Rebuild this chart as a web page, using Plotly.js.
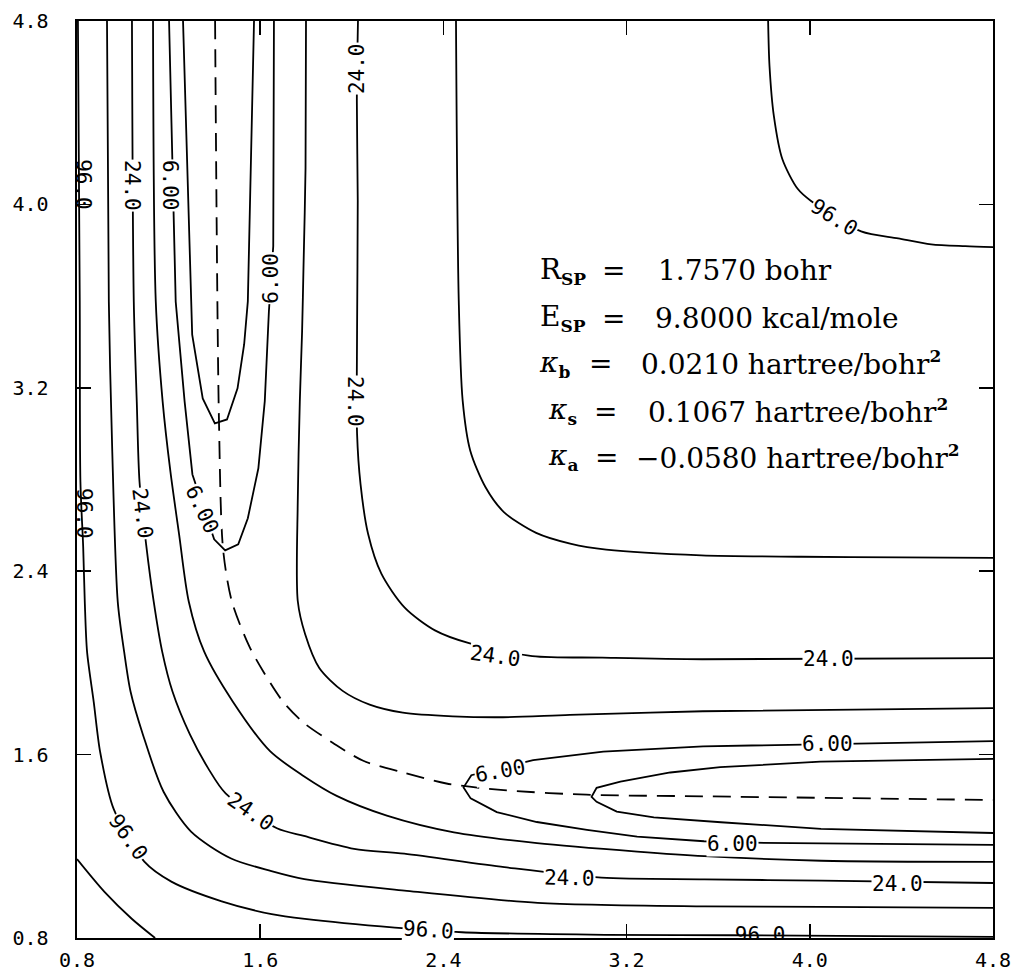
<!DOCTYPE html>
<html><head><meta charset="utf-8">
<script src="https://cdn.plot.ly/plotly-3.0.1.min.js"></script>
<style>html,body{margin:0;padding:0;background:#fff;}</style>
</head><body>
<div id="chart" style="width:1011px;height:976px;"></div>
<script>
// ---- axis ticks ----
const tickVals = [0.8, 1.6, 2.4, 3.2, 4.0, 4.8];
const tickText = ["0.8", "1.6", "2.4", "3.2", "4.0", "4.8"];

// ---- contour lines (kcal/mole) ----
const c192X = [0.8, 0.920, 1.039, 1.141];
const c192Y = [1.144, 1.001, 0.884, 0.8];

const c96inX = [0.804, 0.812, 0.815, 0.827, 0.834, 0.844, 0.873, 0.901, 0.960, 1.094, 1.212, 1.432, 1.650, 1.795, 2.188, 2.481, 3.106, 3.660, 4.8];
const c96inY = [4.8, 3.574, 2.789, 2.506, 2.266, 2.048, 1.830, 1.612, 1.363, 1.133, 1.046, 0.960, 0.904, 0.883, 0.845, 0.825, 0.814, 0.812, 0.805];

const c48inX = [0.931, 0.939, 0.954, 0.978, 1.006, 1.034, 1.088, 1.178, 1.298, 1.473, 1.649, 1.793, 2.230, 2.812, 3.541, 4.052, 4.8];
const c48inY = [4.8, 3.575, 2.921, 2.266, 2.048, 1.874, 1.687, 1.438, 1.264, 1.147, 1.092, 1.057, 1.007, 0.953, 0.938, 0.936, 0.931];

const c24inX = [1.040, 1.048, 1.061, 1.073, 1.102, 1.135, 1.172, 1.217, 1.293, 1.373, 1.449, 1.673, 1.791, 2.010, 2.229, 2.666, 3.090, 3.540, 4.051, 4.8];
const c24inY = [4.8, 3.575, 3.139, 2.790, 2.516, 2.267, 2.049, 1.875, 1.688, 1.540, 1.431, 1.279, 1.245, 1.189, 1.168, 1.109, 1.063, 1.056, 1.050, 1.040];

const c12inX = [1.132, 1.144, 1.174, 1.208, 1.246, 1.288, 1.355, 1.480, 1.643, 1.789, 1.934, 2.153, 2.446, 2.809, 3.246, 3.539, 4.050, 4.8];
const c12inY = [4.8, 3.576, 3.140, 2.834, 2.560, 2.268, 2.050, 1.832, 1.615, 1.507, 1.420, 1.334, 1.261, 1.214, 1.177, 1.157, 1.137, 1.132];

const c6exitX = [1.202, 1.231, 1.270, 1.304, 1.399, 1.447, 1.504, 1.546, 1.592, 1.620, 1.638, 1.657, 1.660];
const c6exitY = [4.8, 3.576, 3.140, 2.822, 2.539, 2.491, 2.517, 2.631, 2.849, 3.142, 3.534, 3.818, 4.8];

const c6entX = [4.8, 3.534, 3.098, 2.792, 2.522, 2.488, 2.519, 2.633, 2.808, 3.027, 3.246, 3.538, 3.800, 4.8];
const c6entY = [1.659, 1.636, 1.613, 1.576, 1.510, 1.457, 1.409, 1.349, 1.306, 1.272, 1.242, 1.222, 1.215, 1.206];

const c3exitX = [1.263, 1.297, 1.303, 1.349, 1.402, 1.455, 1.501, 1.530, 1.546, 1.573];
const c3exitY = [4.8, 3.576, 3.432, 3.154, 3.045, 3.062, 3.198, 3.390, 3.577, 4.8];

const c3entX = [4.8, 4.046, 3.609, 3.391, 3.173, 3.069, 3.047, 3.069, 3.157, 3.319, 3.612, 4.049, 4.8];
const c3entY = [1.581, 1.569, 1.545, 1.522, 1.482, 1.455, 1.416, 1.394, 1.351, 1.326, 1.305, 1.276, 1.258];

const c12outX = [1.800, 1.798, 1.789, 1.783, 1.773, 1.764, 1.764, 1.796, 1.858, 1.960, 2.078, 2.223, 2.441, 2.660, 2.952, 3.533, 4.8];
const c12outY = [4.8, 4.159, 3.723, 3.448, 3.142, 2.706, 2.270, 2.126, 1.978, 1.878, 1.818, 1.783, 1.767, 1.763, 1.773, 1.789, 1.803];

const c24outX = [2.027, 2.022, 2.026, 2.023, 2.023, 2.038, 2.071, 2.129, 2.231, 2.363, 2.512, 2.788, 3.094, 3.530, 4.8];
const c24outY = [4.8, 4.452, 4.016, 3.449, 2.999, 2.781, 2.563, 2.389, 2.241, 2.142, 2.086, 2.030, 2.023, 2.016, 2.021];

const c48outX = [2.455, 2.467, 2.484, 2.517, 2.584, 2.664, 2.805, 2.958, 3.111, 3.526, 3.963, 4.400, 4.8];
const c48outY = [4.8, 3.582, 3.145, 2.927, 2.766, 2.658, 2.567, 2.519, 2.494, 2.469, 2.463, 2.460, 2.458];

const c96outX = [3.818, 3.824, 3.843, 3.880, 3.947, 4.004, 4.224, 4.386, 4.530, 4.679, 4.8];
const c96outY = [4.8, 4.604, 4.386, 4.198, 4.068, 4.016, 3.882, 3.852, 3.826, 3.818, 3.814];

// minimum energy path (dashed)
const pathX = [1.403, 1.420, 1.438, 1.476, 1.552, 1.618, 1.698, 1.786, 1.918, 2.050, 2.225, 2.413, 2.663, 3.025, 3.536, 4.8];
const pathY = [4.8, 3.053, 2.495, 2.269, 2.073, 1.955, 1.833, 1.742, 1.651, 1.573, 1.522, 1.474, 1.445, 1.425, 1.418, 1.402];

// ---- contour labels ----
const labelText  = ["96.0", "24.0", "6.00", "6.00", "24.0", "24.0", "6.00", "96.0", "24.0", "96.0", "24.0", "96.0", "24.0", "24.0", "6.00", "6.00", "6.00", "24.0", "24.0", "96.0"];
const labelX     = [0.825, 1.039, 1.209, 1.649, 2.020, 2.013, 1.349, 0.830, 1.087, 1.023, 1.559, 2.337, 2.626, 4.081, 4.076, 2.649, 3.661, 2.950, 4.383, 4.110];
const labelY     = [4.085, 4.081, 4.082, 3.678, 4.592, 3.139, 2.669, 2.650, 2.651, 1.241, 1.348, 0.833, 2.029, 2.018, 1.647, 1.528, 1.209, 1.062, 1.034, 3.942];
const labelAngle = [90, 90, 90, -90, -90, 90, 65, 90, 83, 55, 35, 4, 8, 0, 0, -10, 0, 1, 0, 32];
const labelOnEdge = [true, false, false, false, false, false, false, true, false, false, false, false, false, false, false, false, false, false, false, false];
// label cut by the lower frame
const cutLabelText = ["96.0"];
const cutLabelX = [3.783];
const cutLabelY = [0.804];

// ---- saddle point parameters ----
const paramSymbols = ["R", "E", "<i>κ</i>", "<i>κ</i>", "<i>κ</i>"];
const paramSubs    = ["SP", "SP", "b", "s", "a"];
const paramValues  = ["1.7570 bohr", "9.8000 kcal/mole", "0.0210 hartree/bohr", "0.1067 hartree/bohr", "−0.0580 hartree/bohr"];
const paramPowers  = ["", "", "2", "2", "2"];

// ---------------------------------------------------------------
const solid = {color: "#000", width: 1.8};
function curve(x, y, smooth) {
  return {type: "scatter", mode: "lines", x: x, y: y, hoverinfo: "skip", showlegend: false,
          line: Object.assign({}, solid, smooth ? {shape: "spline", smoothing: 0.8} : {shape: "linear"})};
}
const traces = [
  curve(c192X, c192Y, true),
  curve(c96inX, c96inY, true),
  curve(c48inX, c48inY, true),
  curve(c24inX, c24inY, true),
  curve(c12inX, c12inY, true),
  curve(c6exitX, c6exitY, false),
  curve(c6entX, c6entY, false),
  curve(c3exitX, c3exitY, false),
  curve(c3entX, c3entY, false),
  curve(c12outX, c12outY, true),
  curve(c24outX, c24outY, true),
  curve(c48outX, c48outY, true),
  curve(c96outX, c96outY, true),
  {type: "scatter", mode: "lines", x: pathX, y: pathY, hoverinfo: "skip", showlegend: false,
   line: {color: "#000", width: 1.8, dash: "18px,10px", shape: "spline", smoothing: 0.8}},
  {type: "scatter", mode: "text", x: cutLabelX, y: cutLabelY, text: cutLabelText, cliponaxis: true,
   textposition: "middle center", hoverinfo: "skip", showlegend: false,
   textfont: {family: "DejaVu Sans Mono", size: 21, color: "#000"}}
];

const labelFont = {family: "DejaVu Sans Mono", size: 21, color: "#000"};
const annotations = labelText.map((t, i) => ({
  x: labelX[i], y: labelY[i], xref: "x", yref: "y", text: t, showarrow: false,
  textangle: labelAngle[i], font: labelFont, xanchor: "center", yanchor: "middle",
  bgcolor: labelOnEdge[i] ? "rgba(0,0,0,0)" : "#fff", borderpad: 0
}));

const serif = {family: "DejaVu Serif", size: 28, color: "#000"};
const nameX  = [0.5033, 0.5033, 0.5022, 0.5120, 0.5120];
const eqX    = [0.5862, 0.5852, 0.5710, 0.5775, 0.5786];
const valX   = [0.6321, 0.6288, 0.6135, 0.6212, 0.6081];
const rowY   = [0.7274, 0.6761, 0.6260, 0.5747, 0.5245];
paramSymbols.forEach((s, i) => {
  const name = s + '<sub><span style="font-size:17px"><b>' + paramSubs[i] + '</b></span></sub>';
  const val = paramValues[i] + (paramPowers[i] ? '<sup><span style="font-size:17px"><b>' + paramPowers[i] + '</b></span></sup>' : '');
  annotations.push({xref: "paper", yref: "paper", x: nameX[i], y: rowY[i], text: name, showarrow: false,
    xanchor: "left", yanchor: "middle", font: serif});
  annotations.push({xref: "paper", yref: "paper", x: eqX[i], y: rowY[i], text: "=", showarrow: false,
    xanchor: "center", yanchor: "middle", font: serif});
  annotations.push({xref: "paper", yref: "paper", x: valX[i], y: rowY[i], text: val, showarrow: false,
    xanchor: "left", yanchor: "middle", font: serif});
});

const axisCommon = {
  range: [0.8, 4.8], tickmode: "array", tickvals: tickVals, ticktext: tickText,
  ticks: "inside", ticklen: 14, tickwidth: 1.6, tickcolor: "#000",
  showline: true, linewidth: 2.4, linecolor: "#000", mirror: "ticks",
  showgrid: false, zeroline: false, fixedrange: true, ticklabeloverflow: "allow",
  tickfont: {family: "DejaVu Sans Mono", size: 20, color: "#000"}
};

const layout = {
  width: 1011, height: 976,
  margin: {l: 77, r: 18, t: 21, b: 38, pad: 0},
  paper_bgcolor: "#fff", plot_bgcolor: "#fff",
  showlegend: false,
  xaxis: Object.assign({}, axisCommon, {ticklabelstandoff: 3}),
  yaxis: Object.assign({}, axisCommon, {ticklabelstandoff: 22}),
  annotations: annotations
};

Plotly.newPlot("chart", traces, layout, {displayModeBar: false, staticPlot: true});
</script>
</body></html>
